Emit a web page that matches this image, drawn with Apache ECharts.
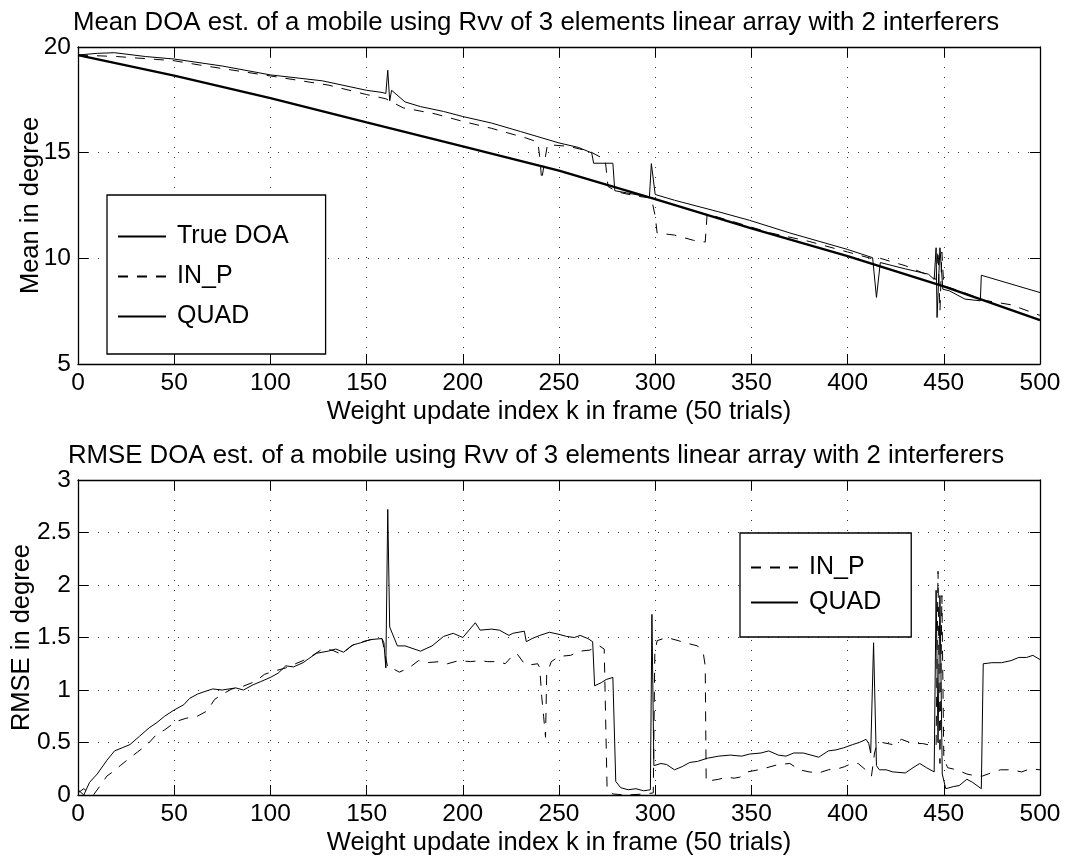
<!DOCTYPE html>
<html>
<head>
<meta charset="utf-8">
<script src="https://cdn.jsdelivr.net/npm/echarts@6/dist/echarts.min.js"></script>
<style>
html,body{margin:0;padding:0;background:#fff;}
#chart{width:1072px;height:860px;}
</style>
</head>
<body>
<div id="chart"></div>
<script>
// ---------- data (k index, value) ----------
var titleTop = 'Mean DOA est. of a mobile using Rvv of 3 elements linear array with 2 interferers';
var titleBottom = 'RMSE DOA est. of a mobile using Rvv of 3 elements linear array with 2 interferers';
var xName = 'Weight update index k in frame (50 trials)';
var yNameTop = 'Mean in degree';
var yNameBottom = 'RMSE in degree';

var meanTrue = [[0,19.62],[50,18.65],[100,17.58],[150,16.43],[200,15.30],[250,14.15],[300,12.80],[350,11.42],[400,10.10],[450,8.67],[500,7.08]];

var meanInp = [[0,19.62],[20,19.55],[50,19.35],[63,19.15],[100,18.63],[130,18.2],[150,17.75],[160,17.55],[169,17.12],[185,16.85],[200,16.48],[215,16.15],[233,15.69],[239,15.5],[240,14.8],[241,13.7],[242,14.3],[244,15.38],[255,15.3],[266,15.06],[274,14.67],[275.5,13.4],[280,13.15],[290,12.95],[298,12.85],[300,12.0],[301,11.2],[310,11.1],[320,10.85],[326,10.77],[327,12.1],[340,11.75],[360,11.2],[380,10.8],[400,10.3],[414,9.95],[417,10.0],[430,9.65],[442,9.2],[446,9.0],[447,10.4],[448,7.5],[449,10.3],[450,8.7],[455,8.55],[460,8.4],[470,8.03],[485,7.8],[500,7.3]];

var meanQuad = [[0,19.62],[10,19.7],[19,19.73],[35,19.55],[50,19.43],[75,19.1],[100,18.68],[127,18.4],[150,17.95],[158,17.85],[160,17.8],[161,18.9],[162,17.45],[163,17.95],[170,17.4],[178,17.18],[190,16.95],[200,16.71],[215,16.4],[230,16.0],[250,15.46],[260,15.25],[267,14.99],[268,14.5],[278,14.5],[279,13.2],[285,13.1],[297,12.9],[298,14.48],[300,13.02],[310,12.75],[333,12.2],[349,11.8],[370,11.2],[400,10.42],[413,10.03],[415,8.15],[417,9.8],[430,9.5],[442,9.25],[445,9.0],[446,10.5],[446.5,7.2],[448,10.5],[449.5,8.54],[453,8.46],[461,8.07],[469,7.99],[469.5,9.2],[500,8.38]];

var rmseInp = [[0,0.02],[3,0.06],[5,0.03],[8,0.0],[12,0.1],[15,0.18],[18,0.22],[22,0.28],[26,0.34],[31,0.41],[36,0.48],[41,0.58],[45,0.62],[51,0.7],[56,0.73],[62,0.75],[67,0.8],[71,0.91],[75,0.96],[80,1.01],[85,1.03],[92,1.08],[97,1.15],[102,1.18],[108,1.21],[113,1.25],[117,1.28],[122,1.33],[127,1.39],[132,1.38],[137,1.34],[142,1.42],[146,1.45],[150,1.47],[155,1.49],[158,1.49],[159,1.4],[161,1.21],[164,1.2],[167,1.17],[172,1.21],[177,1.28],[181,1.26],[188,1.27],[192,1.25],[198,1.28],[204,1.27],[209,1.28],[213,1.27],[219,1.27],[222,1.25],[225,1.31],[228,1.35],[232,1.25],[235,1.24],[239,1.25],[240,1.21],[241,0.94],[242,0.75],[243,0.55],[243.6,1.15],[246,1.27],[250,1.32],[256,1.33],[261,1.37],[266,1.38],[271,1.42],[273.5,1.39],[275,0.05],[278,0.01],[285,0.0],[295,0.01],[299,0.02],[299.8,1.35],[301,1.47],[306,1.5],[312,1.47],[315.5,1.45],[322,1.42],[325,1.35],[326,1.23],[326.5,0.13],[333,0.15],[337,0.17],[341,0.16],[344,0.17],[348,0.22],[353.7,0.24],[358,0.26],[364,0.29],[370,0.3],[375,0.24],[380,0.22],[385,0.21],[390,0.24],[395,0.25],[398.5,0.27],[402,0.3],[405.5,0.30],[410,0.23],[412.4,0.18],[414,0.4],[415,0.47],[418,0.5],[423.5,0.48],[428,0.53],[433.8,0.49],[439,0.49],[444,0.47],[446,0.47],[447,2.13],[448,0.3],[449,1.9],[450,0.35],[452,0.26],[456.6,0.24],[462,0.2],[467,0.18],[470,0.18],[473,0.2],[479.5,0.24],[484.7,0.24],[490.5,0.22],[495,0.25],[500,0.24]];

var rmseQuad = [[0,0.05],[3,0.0],[6,0.12],[10,0.2],[15,0.33],[19,0.42],[23,0.45],[27,0.48],[32,0.56],[37,0.64],[41,0.69],[45,0.75],[50,0.81],[55,0.86],[58,0.92],[62,0.96],[65,0.98],[70,1.01],[75,1.0],[82,1.02],[86,1.0],[91,1.05],[95,1.08],[100,1.12],[104,1.16],[108,1.23],[112,1.22],[117,1.26],[120,1.3],[124,1.35],[130,1.37],[134,1.39],[138,1.36],[143,1.43],[147,1.45],[152,1.48],[158,1.49],[159,1.45],[160,1.21],[161,2.72],[162,1.6],[163,1.59],[166,1.42],[170,1.42],[178,1.37],[184,1.42],[190,1.51],[195,1.54],[200,1.5],[206.5,1.64],[209,1.57],[215,1.58],[219,1.57],[224,1.52],[226,1.54],[232,1.56],[233,1.46],[236,1.49],[240,1.52],[245,1.55],[250,1.53],[254,1.51],[258,1.5],[261,1.52],[265,1.49],[267.5,1.46],[268.5,1.04],[272,1.07],[274.5,1.1],[278,1.12],[279.5,0.13],[282,0.07],[286,0.05],[290,0.06],[294,0.04],[297.5,0.05],[298.3,1.72],[299.3,0.28],[303,0.3],[306,0.29],[310,0.24],[314,0.27],[318,0.31],[322,0.32],[327,0.35],[333,0.37],[339,0.38],[345,0.37],[349,0.39],[355,0.4],[359,0.42],[364,0.38],[368,0.37],[372,0.4],[377,0.40],[381,0.38],[385,0.36],[390,0.42],[394,0.43],[398,0.45],[402.6,0.48],[406,0.5],[409.6,0.53],[411,0.49],[412,0.40],[413.5,1.45],[415,0.28],[416.5,0.24],[420,0.24],[423.5,0.22],[430,0.21],[434,0.26],[437.5,0.30],[441,0.26],[445,0.22],[446,1.95],[447,0.5],[448,1.9],[449.2,0.2],[451,0.06],[455,0.08],[458,0.09],[462,0.15],[465,0.12],[469.5,0.06],[470.5,1.25],[475,1.26],[480,1.26],[485,1.28],[489,1.31],[493,1.31],[496.3,1.33],[500,1.29]];

// ---------- chart ----------
var FONT = 'Liberation Sans';
var FS_TITLE = 25.8, FS_NAME = 25.5, FS_TICK = 24.5, FS_LEG = 25;
var DASH = [10, 9];
var chart = echarts.init(document.getElementById('chart'), null, {renderer: 'canvas'});

function baseX(grid, pos, showLabel) {
  return {
    type: 'value', gridIndex: grid, position: pos, min: 0, max: 500, interval: 50,
    name: showLabel ? xName : '', nameLocation: 'middle', nameGap: 35,
    nameTextStyle: {fontFamily: FONT, fontSize: FS_NAME, color: '#000'},
    axisLine: {show: true, onZero: false, lineStyle: {color: '#000', width: 1.3}},
    axisTick: {show: true, inside: true, length: 10, lineStyle: {color: '#000'}},
    axisLabel: {show: showLabel, fontFamily: FONT, fontSize: FS_TICK, color: '#000', margin: 7},
    splitLine: {show: showLabel, lineStyle: {color: '#333', type: [1, 9], width: 1}}
  };
}
function baseY(grid, pos, min, max, interval, name, showLabel, gap) {
  return {
    type: 'value', gridIndex: grid, position: pos, min: min, max: max, interval: interval,
    name: showLabel ? name : '', nameLocation: 'middle', nameGap: gap || 40, nameMoveOverlap: false,
    nameTextStyle: {fontFamily: FONT, fontSize: FS_NAME, color: '#000'},
    axisLine: {show: true, onZero: false, lineStyle: {color: '#000', width: 1.3}},
    axisTick: {show: true, inside: true, length: 10, lineStyle: {color: '#000'}},
    axisLabel: {show: showLabel, fontFamily: FONT, fontSize: FS_TICK, color: '#000', margin: 7},
    splitLine: {show: showLabel, lineStyle: {color: '#333', type: [1, 9], width: 1}}
  };
}

var option = {
  backgroundColor: '#fff',
  animation: false,
  title: [
    {text: titleTop, left: 'center', top: 5, textStyle: {fontFamily: FONT, fontSize: FS_TITLE, fontWeight: 'normal', color: '#000'}},
    {text: titleBottom, left: 'center', top: 438, textStyle: {fontFamily: FONT, fontSize: FS_TITLE, fontWeight: 'normal', color: '#000'}}
  ],
  grid: [
    {left: 78, right: 32, top: 47, height: 317, containLabel: false, outerBoundsMode: 'none'},
    {left: 78, right: 32, top: 480, height: 315, containLabel: false, outerBoundsMode: 'none'}
  ],
  xAxis: [baseX(0, 'bottom', true), baseX(0, 'top', false), baseX(1, 'bottom', true), baseX(1, 'top', false)],
  yAxis: [
    baseY(0, 'left', 5, 20, 5, yNameTop, true, 34), baseY(0, 'right', 5, 20, 5, '', false),
    baseY(1, 'left', 0, 3, 0.5, yNameBottom, true, 43), baseY(1, 'right', 0, 3, 0.5, '', false)
  ],
  legend: [
    {
      data: ['True DOA', 'IN_P', 'QUAD'], orient: 'vertical', left: 107, top: 195,
      itemWidth: 48, itemHeight: 1, itemGap: 15,
      itemStyle: {opacity: 0},
      padding: [29, 37, 25, 10], borderColor: '#000', borderWidth: 1.3, backgroundColor: '#fff',
      selectedMode: false,
      textStyle: {fontFamily: FONT, fontSize: FS_LEG, color: '#000', lineHeight: 25, padding: [0, 0, 0, 6]}
    },
    {
      data: ['IN_P', 'QUAD'], orient: 'vertical', left: 740, top: 533,
      itemWidth: 47, itemHeight: 1, itemGap: 10,
      itemStyle: {opacity: 0},
      padding: [22, 30, 22, 10], borderColor: '#000', borderWidth: 1.3, backgroundColor: '#fff',
      selectedMode: false,
      textStyle: {fontFamily: FONT, fontSize: FS_LEG, color: '#000', lineHeight: 25, padding: [0, 0, 0, 6]}
    }
  ],
  series: [
    {name: 'True DOA', type: 'line', xAxisIndex: 0, yAxisIndex: 0, data: meanTrue, symbol: 'none', z: 3,
     lineStyle: {color: '#000', width: 2.3}, itemStyle: {color: '#000'}},
    {name: 'IN_P', type: 'line', xAxisIndex: 0, yAxisIndex: 0, data: meanInp, symbol: 'none',
     lineStyle: {color: '#000', width: 1, type: DASH}, itemStyle: {color: '#000'}},
    {name: 'QUAD', type: 'line', xAxisIndex: 0, yAxisIndex: 0, data: meanQuad, symbol: 'none',
     lineStyle: {color: '#000', width: 1}, itemStyle: {color: '#000'}},
    {name: 'IN_P', type: 'line', xAxisIndex: 2, yAxisIndex: 2, data: rmseInp, symbol: 'none',
     lineStyle: {color: '#000', width: 1, type: DASH}, itemStyle: {color: '#000'}},
    {name: 'QUAD', type: 'line', xAxisIndex: 2, yAxisIndex: 2, data: rmseQuad, symbol: 'none',
     lineStyle: {color: '#000', width: 1}, itemStyle: {color: '#000'}}
  ]
};
chart.setOption(option);
</script>
</body>
</html>
